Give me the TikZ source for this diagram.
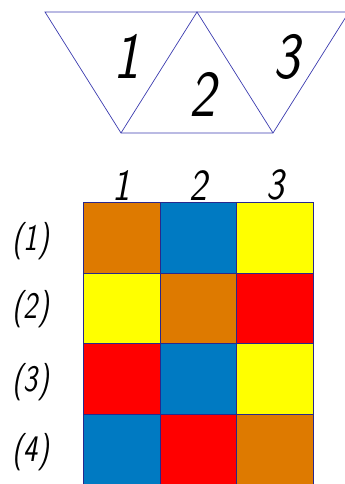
\documentclass[tikz,border=0pt]{standalone}
\usepackage{tikz}
\usetikzlibrary{positioning}
\definecolor{myorange}{RGB}{222,122,0}
\definecolor{myblue}{RGB}{0,122,194}
\definecolor{myyellow}{RGB}{255,255,0}
\definecolor{myred}{RGB}{255,0,0}
\definecolor{mynavy}{RGB}{40,40,140}
\definecolor{myline}{RGB}{60,60,175}
\tikzset{
  cell/.style={rectangle, draw=mynavy, line width=0.8pt,
    minimum width=2.3cm, minimum height=2.115cm, inner sep=0pt,
    anchor=north west},
  bignum/.style={font=\fontsize{56}{56}\selectfont\sffamily\itshape, inner sep=0pt},
  collabel/.style={font=\fontsize{38}{38}\selectfont\sffamily\itshape, inner sep=0pt},
  rowlabel/.style={font=\fontsize{32}{32}\selectfont\sffamily\itshape, inner sep=0pt},
  edge/.style={draw=myline, line width=0.6pt}
}
\begin{document}
\begin{tikzpicture}[x=0.03cm, y=-0.03cm]
  \useasboundingbox (0,0) rectangle (345,484);
  \clip (0,0) rectangle (345,484);

  % Strip of three triangles
  \coordinate (tl) at (45,12);
  \coordinate (tr) at (349,12);
  \coordinate (apex) at (197,12);
  \coordinate (bl) at (121,133);
  \coordinate (br) at (273,133);
  \draw[edge] (tl) -- (tr) -- (br) -- (bl) -- cycle;
  \draw[edge] (bl) -- (apex) -- (br);

  \node[bignum] (tri1) at (127,56) {\scalebox{0.85}[1]{1}};
  \node[bignum] (tri2) at (203,94) {\scalebox{0.85}[1]{2}};
  \node[bignum] (tri3) at (287,57) {\scalebox{0.85}[1]{3}};

  % Colour grid
  \foreach \r/\cols in {1/{myorange,myblue,myyellow},
                        2/{myyellow,myorange,myred},
                        3/{myred,myblue,myyellow},
                        4/{myblue,myred,myorange}}{
    \foreach \col [count=\c] in \cols{
      \node[cell, fill=\col] (cell-\r-\c) at ({83+(\c-1)*76.7},{202+(\r-1)*70.5}) {};
    }
  }

  % Column numbers
  \foreach \c in {1,2,3}
    \node[collabel, above=1pt of cell-1-\c] (col-\c) {\scalebox{0.85}[1]{\c}};

  % Row numbers
  \foreach \r/\y in {1/241,2/309,3/382,4/452}
    \node[rowlabel] (row-\r) at (31,\y) {\scalebox{0.8}[1]{(\r)}};
\end{tikzpicture}
\end{document}
